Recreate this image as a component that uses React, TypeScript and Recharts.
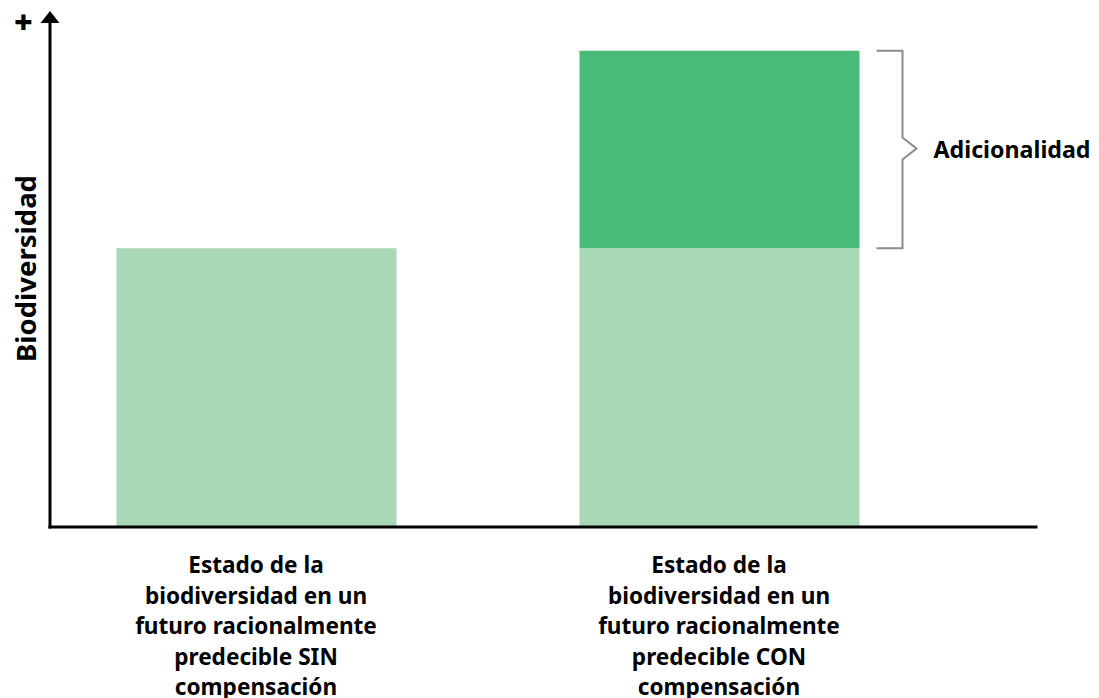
import React from "react";
import { BarChart, Bar, XAxis, YAxis, LabelList } from "recharts";

const categories = ["SIN compensación", "CON compensación"];
const tickLines = [
  ["Estado de la", "biodiversidad en un", "futuro racionalmente", "predecible SIN", "compensación"],
  ["Estado de la", "biodiversidad en un", "futuro racionalmente", "predecible CON", "compensación"],
];
const baseValues = [55.2, 55.2];
const additionalValues = [0, 39.1];
const yTitle = "Biodiversidad";
const bracketLabel = "Adicionalidad";

const data = categories.map((c, i) => ({
  name: c,
  base: baseValues[i],
  extra: additionalValues[i],
}));

const FONT = "'Noto Sans', 'Open Sans', sans-serif";
const LIGHT = "#a8d8b6";
const DARK = "#48bb79";

const XTick = (props: any) => {
  const { x, y, payload } = props;
  const idx = payload && typeof payload.index === "number" ? payload.index : categories.indexOf(payload.value);
  const lines = tickLines[idx] || [];
  return (
    <g>
      {lines.map((l: string, i: number) => (
        <text
          key={i}
          x={x}
          y={y + 46 + i * 30.6}
          textAnchor="middle"
          fontFamily={FONT}
          fontWeight={700}
          fontSize={22.6}
          fill="#000"
        >
          {l}
        </text>
      ))}
    </g>
  );
};

const YDecor = (props: any) => {
  const vb = props.viewBox || { x: 0, y: 22, width: 50, height: 505 };
  const ax = vb.x + vb.width;
  const top = vb.y;
  const midY = vb.y + vb.height / 2 - 6;
  return (
    <g>
      <path d={`M ${ax} ${top - 11} L ${ax - 9.5} ${top + 1} L ${ax + 9.5} ${top + 1} Z`} fill="#000" />
      <text
        x={ax - 26.5}
        y={top + 12}
        textAnchor="middle"
        fontFamily={FONT}
        fontWeight={900}
        fontSize={32}
        fill="#000"
      >
        +
      </text>
      <text
        transform={`translate(${ax - 14}, ${midY}) rotate(-90)`}
        textAnchor="middle"
        fontFamily={FONT}
        fontWeight={700}
        fontSize={27.5}
        fill="#000"
      >
        {yTitle}
      </text>
    </g>
  );
};

const Bracket = (props: any) => {
  const { x, y, width, height, value } = props;
  if (!value) return null;
  const r = Number(x) + Number(width);
  const t = Number(y);
  const b = Number(y) + Number(height);
  const m = (t + b) / 2 - 1;
  return (
    <g>
      <path
        d={`M ${r + 17} ${t} H ${r + 43} V ${m - 11} L ${r + 57} ${m} L ${r + 43} ${m + 11} V ${b} H ${r + 17}`}
        fill="none"
        stroke="#8c8c8c"
        strokeWidth={2}
      />
      <text
        x={r + 74}
        y={m + 9}
        fontFamily={FONT}
        fontWeight={700}
        fontSize={23.2}
        fill="#000"
      >
        {bracketLabel}
      </text>
    </g>
  );
};

export default function App() {
  return (
    <div style={{ position: "absolute", left: 0, top: 0, background: "#fff" }}>
      <BarChart
        width={1099}
        height={698}
        data={data}
        margin={{ top: 22, right: 63, bottom: 0, left: 0 }}
      >
        <XAxis
          dataKey="name"
          type="category"
          height={171}
          padding={{ left: -25.5, right: 85.5 }}
          axisLine={{ stroke: "#000", strokeWidth: 3, strokeLinecap: "square" }}
          tickLine={false}
          tickSize={0}
          tickMargin={0}
          interval={0}
          tick={<XTick />}
        />
        <YAxis
          type="number"
          domain={[0, 100]}
          width={50}
          tick={false}
          tickLine={false}
          axisLine={{ stroke: "#000", strokeWidth: 3, strokeLinecap: "square" }}
          label={<YDecor />}
        />
        <Bar dataKey="base" stackId="a" fill={LIGHT} barSize={280} isAnimationActive={false} />
        <Bar dataKey="extra" stackId="a" fill={DARK} barSize={280} isAnimationActive={false}>
          <LabelList dataKey="extra" content={<Bracket />} />
        </Bar>
      </BarChart>
    </div>
  );
}
